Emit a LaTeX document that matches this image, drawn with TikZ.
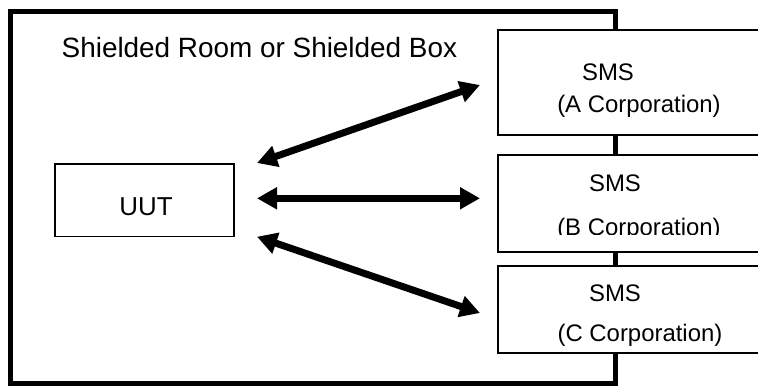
\documentclass[tikz,border=0pt]{standalone}
\usepackage{fontspec}
\setmainfont{Liberation Sans}
\usetikzlibrary{arrows.meta}
\begin{document}
\begin{tikzpicture}[x=1bp,y=-1bp,
  thinbox/.style={draw, line width=1.8bp, fill=white, inner sep=0, anchor=north west},
  room/.style={line width=5bp},
  link/.style={line width=7bp, {Triangle[length=20bp,width=21bp]}-{Triangle[length=20bp,width=21bp]}},
  smslbl/.style={font=\fontsize{24}{28}\selectfont, inner sep=0, anchor=base},
  titlelbl/.style={font=\fontsize{28}{32}\selectfont, inner sep=0, anchor=base west},
  uutlbl/.style={font=\fontsize{26}{30}\selectfont, inner sep=0, anchor=base}]
\useasboundingbox (0,0) rectangle (758,385);
% shielded room
\draw[room] (10,11) -- (615,11) -- (615,383) -- (10,383) -- cycle;
\node[titlelbl] (title) at (61.5,57.3) {Shielded Room or Shielded Box};
% UUT
\node[thinbox, line width=1.5bp, minimum width=179bp, minimum height=72.5bp] (uut) at (54.3,163.3) {};
\node[uutlbl] (uuttext) at (146,215) {UUT};
% SMS boxes
\node[thinbox, minimum width=280bp, minimum height=104.7bp] (smsa) at (497.3,29.3) {};
\node[thinbox, minimum width=280bp, minimum height=97bp] (smsb) at (497.3,154) {};
\node[thinbox, minimum width=280bp, minimum height=87bp] (smsc) at (497.3,265) {};
\node[smslbl] (smsatext) at (608,80) {SMS};
\node[smslbl] (smsacorp) at (639,112) {(A Corporation)};
\node[smslbl] (smsbtext) at (615,191) {SMS};
\begin{scope}
  \clip (497,154) rectangle (758,234.6);
  \node[smslbl] (smsbcorp) at (639,235) {(B Corporation)};
\end{scope}
\node[smslbl] (smsctext) at (615,301) {SMS};
\node[smslbl] (smsccorp) at (640,341.7) {(C Corporation)};
% arrow ends
\coordinate (ua) at (257,163);
\coordinate (ub) at (257,198.3);
\coordinate (uc) at (257,236.7);
\coordinate (sa) at (480,85);
\coordinate (sb) at (480,198.3);
\coordinate (sc) at (480,313);
\draw[link] (ua) -- (sa);
\draw[link] (ub) -- (sb);
\draw[link] (uc) -- (sc);
\end{tikzpicture}
\end{document}
